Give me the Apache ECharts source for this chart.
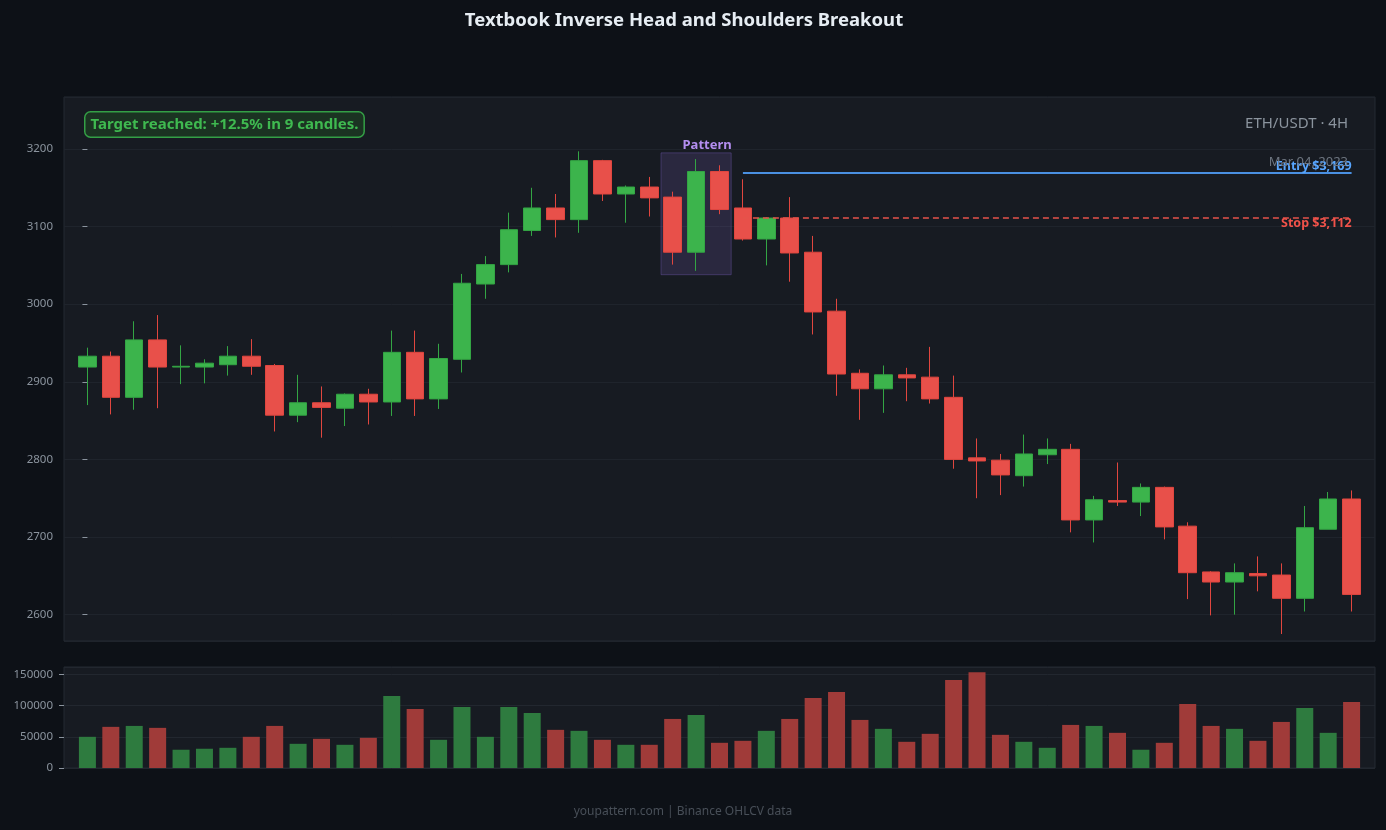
<!DOCTYPE html>
<html lang="en" style="height: 100%">
  <head>
    <meta charset="utf-8" />
    <script src="https://cdn.jsdelivr.net/npm/echarts@6/dist/echarts.min.js"></script>
  </head>
  <body style="height: 100%; margin: 0; background: #0d1117">
    <div id="container" style="width: 1386px; height: 830px"></div>

    <script type="text/javascript">
      // ETH/USDT 4H candles
      var opens = [2919, 2933, 2880, 2954, 2919, 2919, 2922, 2933, 2921, 2857,
        2873, 2866, 2884, 2874, 2938, 2878, 2929, 3026, 3051, 3095,
        3124, 3109, 3185, 3142, 3151, 3138, 3067, 3171, 3124, 3084,
        3111, 3067, 2991, 2911, 2891, 2909, 2906, 2880, 2802, 2799,
        2779, 2806, 2813, 2722, 2747, 2745, 2764, 2714, 2655, 2642,
        2653, 2651, 2621, 2710, 2749];
      var closes = [2933, 2880, 2954, 2919, 2920, 2924, 2933, 2920, 2857, 2873,
        2867, 2884, 2874, 2938, 2878, 2930, 3027, 3051, 3096, 3124,
        3109, 3185, 3142, 3151, 3137, 3067, 3171, 3122, 3084, 3111,
        3066, 2990, 2910, 2891, 2909, 2905, 2878, 2800, 2798, 2780,
        2807, 2813, 2722, 2748, 2745, 2764, 2713, 2654, 2642, 2654,
        2650, 2621, 2712, 2749, 2626];
      var lows = [2870, 2858, 2864, 2866, 2897, 2898, 2908, 2909, 2836, 2848,
        2828, 2843, 2845, 2856, 2856, 2865, 2912, 3007, 3041, 3088,
        3086, 3092, 3133, 3105, 3113, 3051, 3043, 3116, 3082, 3050,
        3029, 2961, 2882, 2851, 2860, 2875, 2872, 2788, 2750, 2754,
        2765, 2794, 2706, 2693, 2740, 2727, 2697, 2620, 2599, 2600,
        2630, 2575, 2604, 2710, 2604];
      var highs = [2944, 2939, 2978, 2986, 2947, 2929, 2946, 2955, 2923, 2909,
        2894, 2885, 2891, 2966, 2966, 2949, 3039, 3062, 3118, 3150,
        3142, 3197, 3186, 3153, 3164, 3145, 3187, 3179, 3161, 3112,
        3138, 3088, 3007, 2916, 2921, 2918, 2945, 2908, 2827, 2807,
        2832, 2827, 2820, 2753, 2796, 2769, 2765, 2719, 2656, 2666,
        2675, 2666, 2740, 2758, 2760];
      var volumes = [50000, 66000, 67500, 64400, 29300, 30900, 32400, 50000, 67500, 38800,
        46800, 37200, 48400, 115400, 94700, 45200, 97900, 50000, 97900, 88300,
        61200, 59600, 45200, 37200, 37200, 78700, 85100, 40400, 43600, 59600,
        78700, 112200, 121800, 77100, 62800, 42000, 54800, 141000, 153700, 53200,
        42000, 32400, 69100, 67500, 56400, 29300, 40400, 102700, 67500, 62800,
        43600, 73900, 96300, 56400, 105800];

      var patternStart = 25, patternEnd = 27;
      var patternTop = 3195, patternBottom = 3038;
      var entryIndex = 28;
      var entryPrice = 3169;
      var stopPrice = 3112;

      var up = "#3cb44c", down = "#e8504a";
      var upVol = "#2e7b3f", downVol = "#a03b39";

      // one empty slot either side, like the reference padding
      var cats = [""];
      var candles = ["-"];
      var vols = ["-"];
      for (var i = 0; i < opens.length; i++) {
        cats.push(String(i));
        candles.push([opens[i], closes[i], lows[i], highs[i]]);
        vols.push({
          value: volumes[i],
          itemStyle: { color: closes[i] >= opens[i] ? upVol : downVol },
        });
      }
      cats.push("");
      candles.push("-");
      vols.push("-");

      var myChart = echarts.init(document.getElementById("container"), null, {
        renderer: "canvas",
      });

      var labelFont = {
        color: "#8b949e", fontSize: 11.5, fontFamily: "Noto Sans",
        formatter: function (v) { return String(v); },
      };

      var option = {
        backgroundColor: "#0d1117",
        animation: false,
        grid: [
          {
            left: 64, right: 11, top: 97, height: 544,
            show: true, backgroundColor: "#171b22", borderColor: "#252a33", borderWidth: 1,
          },
          {
            left: 64, right: 11, top: 667, height: 101,
            show: true, backgroundColor: "#171b22", borderColor: "#252a33", borderWidth: 1,
          },
        ],
        xAxis: [
          {
            type: "category", gridIndex: 0, data: cats, boundaryGap: false,
            axisLine: { show: false }, axisTick: { show: false },
            axisLabel: { show: false }, splitLine: { show: false },
          },
          {
            type: "category", gridIndex: 1, data: cats, boundaryGap: false,
            axisLine: { show: false }, axisTick: { show: false },
            axisLabel: { show: false }, splitLine: { show: false },
          },
          { type: "value", gridIndex: 0, min: -1, max: opens.length, show: false },
        ],
        yAxis: [
          {
            type: "value", gridIndex: 0, min: 2566, max: 3267, splitNumber: 7,
            axisLine: { show: false },
            axisTick: { show: true, length: 5, lineStyle: { color: "#8b949e" } },
            axisLabel: Object.assign({ showMinLabel: false, showMaxLabel: false, margin: 11 }, labelFont),
            splitLine: { lineStyle: { color: "#1f242c" } },
          },
          {
            type: "value", gridIndex: 1, min: 0, max: 162000, splitNumber: 3,
            axisLine: { show: false },
            axisTick: { show: true, length: 5, lineStyle: { color: "#8b949e" } },
            axisLabel: Object.assign({ showMaxLabel: false, margin: 11 }, labelFont),
            splitLine: { lineStyle: { color: "#22272f" } },
          },
        ],
        series: [
          {
            type: "candlestick",
            xAxisIndex: 0, yAxisIndex: 0,
            data: candles,
            barWidth: 18,
            itemStyle: {
              color: up, color0: down,
              borderColor: "#33a544", borderColor0: "#e0463f", borderWidth: 1,
            },
          },
          {
            type: "bar",
            xAxisIndex: 1, yAxisIndex: 1,
            data: vols,
            barWidth: 17,
          },
          {
            type: "line",
            xAxisIndex: 2, yAxisIndex: 0,
            data: [],
            markArea: {
              silent: true,
              itemStyle: {
                color: "rgba(140, 110, 220, 0.16)",
                borderColor: "rgba(140, 110, 220, 0.3)",
                borderWidth: 1,
              },
              label: {
                show: true,
                position: ["100%", -1],
                align: "right",
                verticalAlign: "bottom",
                color: "#b48ef0",
                fontSize: 13,
                fontWeight: "bold",
                fontFamily: "Noto Sans",
              },
              data: [[
                { name: "Pattern", coord: [patternStart - 0.5, patternTop] },
                { coord: [patternEnd + 0.5, patternBottom] },
              ]],
            },
            markLine: {
              silent: true,
              symbol: ["none", "none"],
              data: [
                [
                  {
                    coord: [entryIndex, entryPrice],
                    lineStyle: { color: "#4a90e2", width: 2, type: "solid" },
                    label: {
                      show: true, position: "insideEndTop", distance: [0, 0],
                      formatter: "Entry $3,169",
                      color: "#58a6ff", fontSize: 12.5, fontWeight: "bold", fontFamily: "Noto Sans",
                    },
                  },
                  { coord: [opens.length - 1, entryPrice] },
                ],
                [
                  {
                    coord: [entryIndex, stopPrice],
                    lineStyle: { color: "#e5534b", width: 1.5, type: [6, 4] },
                    label: {
                      show: true, position: "insideEndBottom", distance: [0, 0],
                      formatter: "Stop $3,112",
                      color: "#f0524a", fontSize: 12.5, fontWeight: "bold", fontFamily: "Noto Sans",
                    },
                  },
                  { coord: [opens.length - 1, stopPrice] },
                ],
              ],
            },
          },
        ],
        graphic: [
          {
            type: "text",
            x: 684, y: 21,
            style: {
              text: "Textbook Inverse Head and Shoulders Breakout",
              fill: "#e6edf3",
              font: "bold 18.5px 'Noto Sans'",
              textAlign: "center",
              textVerticalAlign: "middle",
            },
            z: 100,
          },
          {
            type: "text",
            left: 84, top: 111,
            style: {
              text: "Target reached: +12.5% in 9 candles.",
              fill: "#3fb950",
              font: "bold 15px 'Noto Sans'",
              backgroundColor: "#1b3322",
              borderColor: "#34a046",
              borderWidth: 1.5,
              borderRadius: 5,
              padding: [5, 5, 4, 5],
            },
            z: 100,
          },
          {
            type: "text",
            right: 38, top: 116,
            style: { text: "ETH/USDT · 4H", fill: "#8b949e", font: "15px 'Noto Sans'" },
            z: 100,
          },
          {
            type: "text",
            right: 38, top: 156,
            style: { text: "Mar 04, 2023", fill: "#6e7681", font: "13px 'Noto Sans'" },
            z: 100,
          },
          {
            type: "text",
            x: 683, y: 812,
            style: {
              text: "youpattern.com | Binance OHLCV data",
              fill: "#484f58",
              font: "12px 'Noto Sans'",
              textAlign: "center",
              textVerticalAlign: "middle",
            },
            z: 100,
          },
        ],
      };

      myChart.setOption(option);
      window.addEventListener("resize", myChart.resize);
    </script>
  </body>
</html>
